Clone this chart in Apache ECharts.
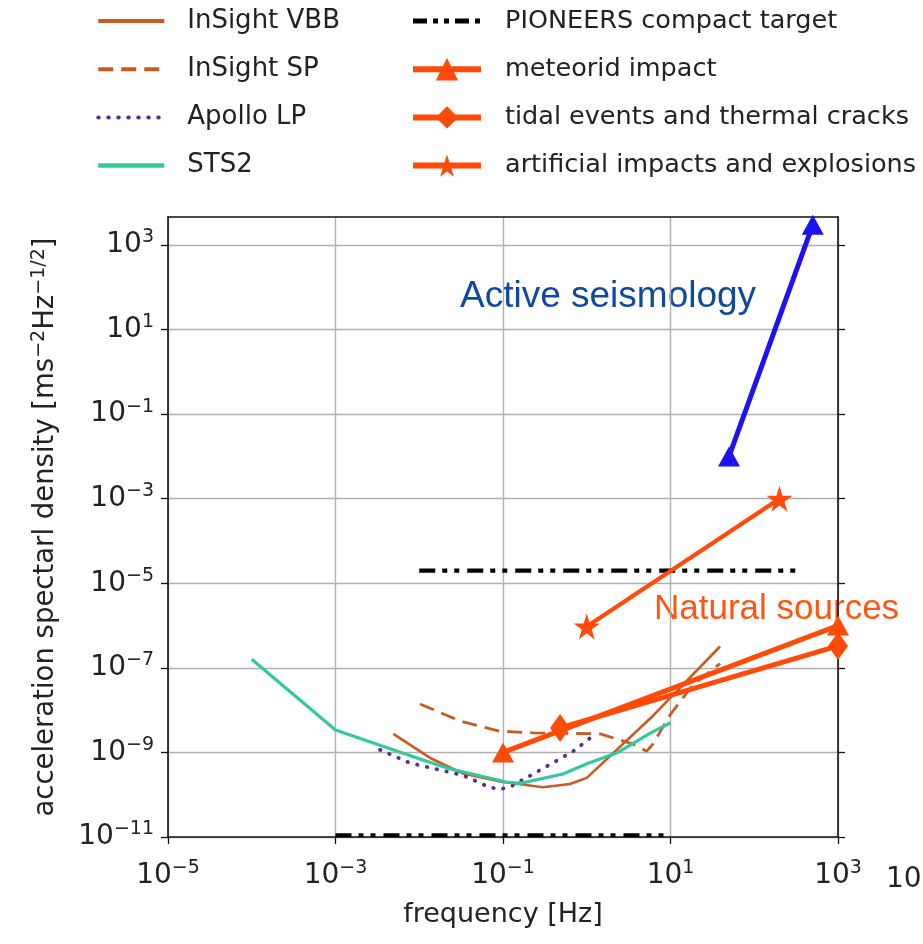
<!DOCTYPE html>
<html>
<head>
<meta charset="utf-8">
<script src="https://cdn.jsdelivr.net/npm/echarts@6/dist/echarts.min.js"></script>
<style>
html, body { margin: 0; padding: 0; background: #fff; }
#chart { width: 923px; height: 944px; }
</style>
</head>
<body>
<div id="chart"></div>
<script>
// values (frequency in Hz, ASD in m s^-2 Hz^-1/2)
const xTicks = [1e-5, 1e-3, 1e-1, 1e1, 1e3]
const yTicks = [1e-11, 1e-9, 1e-7, 1e-5, 1e-3, 1e-1, 1e1, 1e3]

const vbbFreq = [0.0049, 0.0135, 0.033, 0.1, 0.3, 0.63, 1, 5.8, 39]
const vbbAsd = [2.75e-9, 7.4e-10, 3.2e-10, 2.0e-10, 1.5e-10, 1.8e-10, 2.5e-10, 6.5e-9, 3.2e-7]

const spFreq = [0.0102, 0.031, 0.09, 0.23, 1.45, 3.5, 5.2, 6.2, 10, 18.6, 39]
const spAsd = [1.4e-8, 5.5e-9, 3.2e-9, 2.9e-9, 2.75e-9, 1.6e-9, 1.07e-9, 1.6e-9, 8e-9, 4e-8, 1.26e-7]

const apolloFreq = [0.0034, 0.0078, 0.033, 0.069, 0.091, 0.12, 0.19, 0.34, 0.69, 1.32]
const apolloAsd = [1.15e-9, 5.6e-10, 2.9e-10, 1.5e-10, 1.35e-10, 1.5e-10, 2.5e-10, 4.8e-10, 1.07e-9, 2.9e-9]

const stsFreq = [1e-4, 1e-3, 0.01, 0.023, 0.11, 0.16, 0.52, 1, 2.3, 5.8, 10]
const stsAsd = [1.6e-7, 3.4e-9, 7.1e-10, 4.1e-10, 2.0e-10, 1.86e-10, 3.1e-10, 5.4e-10, 9.8e-10, 2.9e-9, 5e-9]

const pioneersHighFreq = [0.01, 380]
const pioneersHighAsd = [2e-5, 2e-5]
const pioneersLowFreq = [1e-3, 10]
const pioneersLowAsd = [1.1e-11, 1.1e-11]

const meteorFreq = [0.1, 1000]
const meteorAsd = [1e-9, 1e-6]
const tidalFreq = [0.48, 1000]
const tidalAsd = [3.8e-9, 3.3e-7]
const artificialFreq = [1, 200]
const artificialAsd = [9.5e-7, 1e-3]
const activeFreq = [50, 500]
const activeAsd = [0.01, 3000]

function pairs(xs, ys) {
  return xs.map((x, i) => [x, ys[i]])
}

const ORANGE = '#ff4a08'
const BROWN = '#c85c1e'
const FONT = 'DejaVu Sans'
const STAR = 'path://M0,-100L22.3,-30.7L95.1,-30.9L36.1,11.7L58.8,80.9L0,38L-58.8,80.9L-36.1,11.7L-95.1,-30.9L-22.3,-30.7Z'
const DASHDOTDOT = [16, 7, 5, 7, 5, 8]
// legend entries drawn as a plain line (no marker)
const noMarker = { opacity: 0 }

function powLabel(v) {
  let e = Math.round(Math.log10(v))
  if (Math.abs(Math.log10(v) - e) > 1e-6) return ''
  return '{b|10}{s|' + String(e).replace('-', '\u2212') + '}'
}

const labelRich = {
  b: { fontSize: 28, fontFamily: FONT, color: '#222', lineHeight: 34 },
  s: { fontSize: 19, fontFamily: FONT, color: '#222', verticalAlign: 'top', lineHeight: 16 }
}

let myChart = echarts.init(document.getElementById('chart'), null, { renderer: 'canvas' })

myChart.setOption({
  animation: false,
  backgroundColor: '#fff',
  grid: {
    left: 168,
    right: 85,
    top: 217,
    bottom: 107
  },
  legend: [
    {
      data: [
        { name: 'InSight VBB', itemStyle: noMarker, lineStyle: { width: 4 } },
        { name: 'InSight SP', itemStyle: noMarker, lineStyle: { width: 4, type: [15, 8] } },
        { name: 'Apollo LP', itemStyle: noMarker, lineStyle: { width: 4, type: [0.5, 9.5], cap: 'round' } },
        { name: 'STS2', itemStyle: noMarker, lineStyle: { width: 4.5 } }
      ],
      orient: 'vertical',
      left: 96,
      top: 8,
      padding: 0,
      itemWidth: 66,
      itemHeight: 28,
      itemGap: 22.2,
      selectedMode: false,
      textStyle: { fontSize: 26, fontFamily: FONT, color: '#222', padding: [0, 0, 0, 18] }
    },
    {
      data: [
        { name: 'PIONEERS compact target', itemStyle: noMarker, lineStyle: { width: 5, type: [14, 6, 5, 6, 5, 6] } },
        { name: 'meteorid impact', lineStyle: { width: 6 } },
        { name: 'tidal events and thermal cracks', lineStyle: { width: 6 } },
        { name: 'artificial impacts and explosions', lineStyle: { width: 6 } }
      ],
      orient: 'vertical',
      left: 410,
      top: 8,
      padding: 0,
      itemWidth: 68,
      itemHeight: 28,
      itemGap: 22.2,
      selectedMode: false,
      textStyle: { fontSize: 25.5, fontFamily: FONT, color: '#222', padding: [0, 0, 0, 19] }
    }
  ],
  xAxis: [
    {
      type: 'log',
      logBase: 10,
      min: 1e-5,
      max: 1e3,
      interval: 2,
      name: 'frequency [Hz]',
      nameLocation: 'middle',
      nameGap: 64,
      nameTextStyle: { fontSize: 27, fontFamily: FONT, color: '#222' },
      axisLine: { lineStyle: { color: '#111', width: 1.6 } },
      axisTick: { show: true, length: 7, lineStyle: { color: '#111', width: 1.3 }, customValues: xTicks },
      axisLabel: { margin: 22, formatter: powLabel, rich: labelRich, customValues: xTicks },
      splitLine: { show: true, lineStyle: { color: '#b0b0b0', width: 1.4 } }
    },
    {
      type: 'log',
      logBase: 10,
      min: 1e-5,
      max: 1e3,
      position: 'top',
      axisLine: { show: true, lineStyle: { color: '#111', width: 1.6 } },
      axisTick: { show: false },
      axisLabel: { show: false },
      splitLine: { show: false }
    }
  ],
  yAxis: [
    {
      type: 'log',
      logBase: 10,
      min: 1e-11,
      max: 4600,
      interval: 2,
      name: '{n|acceleration spectarl density [ms}{s|\u22122}{n|Hz}{s|\u22121/2}{n|]}',
      nameLocation: 'middle',
      nameGap: 106,
      nameTextStyle: {
        rich: {
          n: { fontSize: 27.5, fontFamily: FONT, color: '#222', lineHeight: 32 },
          s: { fontSize: 19, fontFamily: FONT, color: '#222', verticalAlign: 'top', lineHeight: 15 }
        }
      },
      axisLine: { lineStyle: { color: '#111', width: 1.6 } },
      axisTick: { show: true, length: 7, lineStyle: { color: '#111', width: 1.3 }, customValues: yTicks },
      axisLabel: { margin: 14, formatter: powLabel, rich: labelRich, customValues: yTicks },
      splitLine: { show: true, lineStyle: { color: '#b0b0b0', width: 1.4 } }
    },
    {
      type: 'log',
      logBase: 10,
      min: 1e-11,
      max: 4600,
      position: 'right',
      axisLine: { show: true, lineStyle: { color: '#111', width: 1.6 } },
      axisTick: { show: true, length: 7, lineStyle: { color: '#111', width: 1.3 }, customValues: yTicks },
      axisLabel: { show: false },
      splitLine: { show: false }
    }
  ],
  series: [
    {
      type: 'line',
      name: 'InSight VBB',
      symbol: 'none',
      color: BROWN,
      lineStyle: { color: BROWN, width: 2.6 },
      data: pairs(vbbFreq, vbbAsd)
    },
    {
      type: 'line',
      name: 'InSight SP',
      symbol: 'none',
      color: BROWN,
      lineStyle: { color: BROWN, width: 2.8, type: [15, 8] },
      data: pairs(spFreq, spAsd)
    },
    {
      type: 'line',
      name: 'Apollo LP',
      symbol: 'none',
      color: '#5b2f90',
      lineStyle: { color: '#5b2f90', width: 3.8, type: [0.5, 9.5], cap: 'round' },
      data: pairs(apolloFreq, apolloAsd)
    },
    {
      type: 'line',
      name: 'STS2',
      symbol: 'none',
      color: '#34c99d',
      lineStyle: { color: '#34c99d', width: 3.2 },
      data: pairs(stsFreq, stsAsd)
    },
    {
      type: 'line',
      name: 'PIONEERS compact target',
      symbol: 'none',
      color: '#000',
      lineStyle: { color: '#000', width: 4.2, type: DASHDOTDOT },
      data: pairs(pioneersHighFreq, pioneersHighAsd)
    },
    {
      type: 'line',
      name: 'PIONEERS compact target',
      symbol: 'none',
      color: '#000',
      lineStyle: { color: '#000', width: 4.2, type: DASHDOTDOT },
      data: pairs(pioneersLowFreq, pioneersLowAsd)
    },
    {
      type: 'line',
      name: 'meteorid impact',
      symbol: 'triangle',
      symbolSize: [22, 20],
      color: ORANGE,
      itemStyle: { color: ORANGE },
      lineStyle: { color: ORANGE, width: 5 },
      data: pairs(meteorFreq, meteorAsd)
    },
    {
      type: 'line',
      name: 'tidal events and thermal cracks',
      symbol: 'diamond',
      symbolSize: [20, 28],
      color: ORANGE,
      itemStyle: { color: ORANGE },
      lineStyle: { color: ORANGE, width: 5 },
      data: pairs(tidalFreq, tidalAsd)
    },
    {
      type: 'line',
      name: 'artificial impacts and explosions',
      symbol: STAR,
      symbolSize: 26,
      color: ORANGE,
      itemStyle: { color: ORANGE },
      lineStyle: { color: ORANGE, width: 4.2 },
      data: pairs(artificialFreq, artificialAsd)
    },
    {
      type: 'line',
      name: 'active',
      symbol: 'triangle',
      symbolSize: [22, 20],
      color: '#1f12f2',
      itemStyle: { color: '#1f12f2' },
      lineStyle: { color: '#1f12f2', width: 5 },
      data: pairs(activeFreq, activeAsd)
    }
  ],
  graphic: [
    {
      type: 'text',
      left: 460,
      top: 278,
      style: { text: 'Active seismology', fontSize: 37, fontFamily: 'Liberation Sans', fill: '#0d4a9f' }
    },
    {
      type: 'text',
      left: 654,
      top: 592,
      style: { text: 'Natural sources', fontSize: 35, fontFamily: 'Liberation Sans', fill: '#ff5510' }
    },
    {
      type: 'text',
      left: 886,
      top: 866,
      style: { text: '10', fontSize: 28, fontFamily: FONT, fill: '#222' }
    }
  ]
})

window.addEventListener('resize', () => {
  myChart.resize()
})
</script>
</body>
</html>
